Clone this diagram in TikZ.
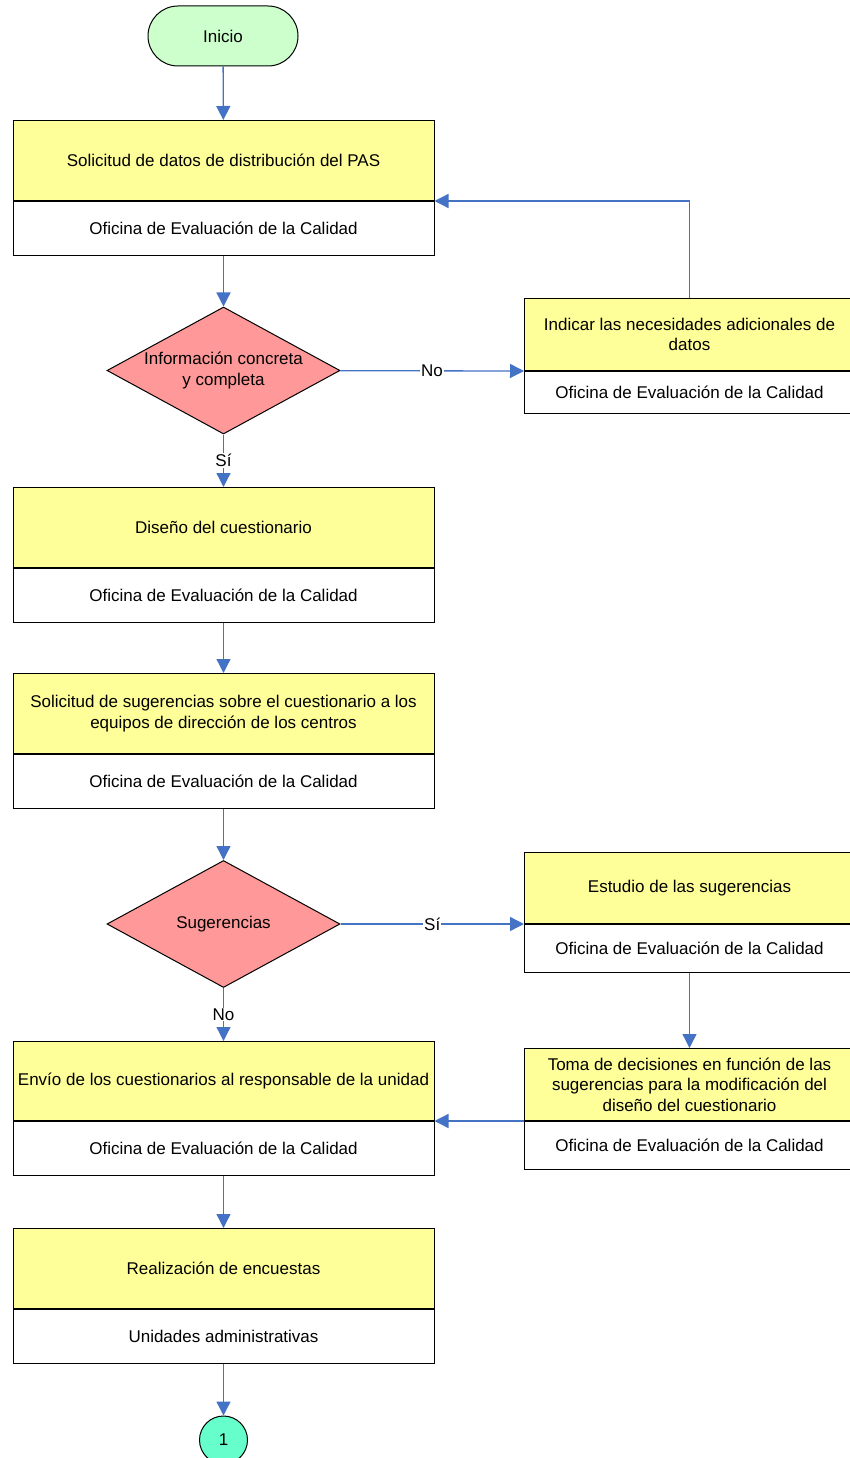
\documentclass[tikz,border=0pt]{standalone}
\usepackage{fontspec}
\setmainfont{Liberation Sans}
\usetikzlibrary{shapes.geometric,arrows.meta}

\definecolor{amarillo}{HTML}{FFFF99}
\definecolor{verdeclaro}{HTML}{CCFFCC}
\definecolor{rosa}{HTML}{FF9999}
\definecolor{turquesa}{HTML}{66FFCC}
\definecolor{azul}{HTML}{4472C4}

\begin{document}
\begin{tikzpicture}[x=1pt,y=-1pt,
    font=\fontsize{17}{20.5}\selectfont,
    paso/.style={draw,line width=1pt,fill=amarillo,minimum width=421pt,minimum height=80pt,align=center,inner sep=0pt,anchor=north},
    oficina/.style={draw,line width=1pt,fill=white,minimum width=421pt,minimum height=54pt,align=center,inner sep=0pt,anchor=north},
    pasoder/.style={paso,minimum width=330pt,minimum height=72pt},
    oficinader/.style={oficina,minimum width=330pt,minimum height=48pt},
    decision/.style={diamond,draw,line width=1pt,fill=rosa,minimum width=233pt,minimum height=127pt,inner sep=0pt,align=center},
    inicio/.style={draw,line width=1pt,fill=verdeclaro,rounded corners=30pt,minimum width=150pt,minimum height=60pt},
    conector/.style={circle,draw,line width=1pt,fill=turquesa,minimum size=48pt,inner sep=0pt},
    flecha/.style={draw=azul,line width=1.3pt,-{Triangle[length=14pt,width=14pt]}},
    etiqueta/.style={fill=white,inner sep=1pt}]

    \useasboundingbox[fill=white] (0,0) rectangle (849,1458);

    % columna izquierda
    \node[inicio] (inicio) at (223,36) {Inicio};
    \node[paso] (solicitud) at (223.5,120) {Solicitud de datos de distribución del PAS};
    \node[oficina] (solicitudof) at (solicitud.south) {Oficina de Evaluación de la Calidad};
    \node[decision,label={[align=center]center:Información concreta\\y completa}] (info) at (223.5,370.5) {};
    \node[paso] (diseno) at (223.5,487) {Diseño del cuestionario};
    \node[oficina] (disenoof) at (diseno.south) {Oficina de Evaluación de la Calidad};
    \node[paso] (sugerir) at (223.5,673) {Solicitud de sugerencias sobre el cuestionario a los\\equipos de dirección de los centros};
    \node[oficina] (sugerirof) at (sugerir.south) {Oficina de Evaluación de la Calidad};
    \node[decision] (sugerencias) at (223.5,924) {Sugerencias};
    \node[paso,minimum height=79pt] (envio) at (223.5,1041) {Envío de los cuestionarios al responsable de la unidad};
    \node[oficina] (envioof) at (envio.south) {Oficina de Evaluación de la Calidad};
    \node[paso] (encuestas) at (223.5,1228) {Realización de encuestas};
    \node[oficina] (encuestasof) at (encuestas.south) {Unidades administrativas};
    \node[conector] (uno) at (223.5,1440) {1};

    % columna derecha
    \node[pasoder] (indicar) at (689.5,298) {Indicar las necesidades adicionales de\\datos};
    \node[oficinader,minimum height=42pt] (indicarof) at (indicar.south) {Oficina de Evaluación de la Calidad};
    \node[pasoder,minimum height=71pt] (estudio) at (689.5,852) {Estudio de las sugerencias};
    \node[oficinader] (estudioof) at (estudio.south) {Oficina de Evaluación de la Calidad};
    \node[pasoder] (toma) at (689.5,1048) {Toma de decisiones en función de las\\sugerencias para la modificación del\\diseño del cuestionario};
    \node[oficinader] (tomaof) at (toma.south) {Oficina de Evaluación de la Calidad};

    % conexiones
    \draw[flecha] (inicio) -- (solicitud);
    \draw[flecha] (solicitudof) -- (info);
    \draw[flecha] (info) -- node[etiqueta] {No} (indicar.south west);
    \draw[flecha] (indicar.north) |- (solicitud.south east);
    \draw[flecha] (info) -- node[etiqueta] {Sí} (diseno);
    \draw[flecha] (disenoof) -- (sugerir);
    \draw[flecha] (sugerirof) -- (sugerencias);
    \draw[flecha] (sugerencias) -- node[etiqueta] {Sí} (estudio.south west);
    \draw[flecha] (estudioof) -- (toma);
    \draw[flecha] (toma.south west) -- (envio.south east);
    \draw[flecha] (sugerencias) -- node[etiqueta] {No} (envio);
    \draw[flecha] (envioof) -- (encuestas);
    \draw[flecha] (encuestasof) -- (uno);

\end{tikzpicture}
\end{document}
